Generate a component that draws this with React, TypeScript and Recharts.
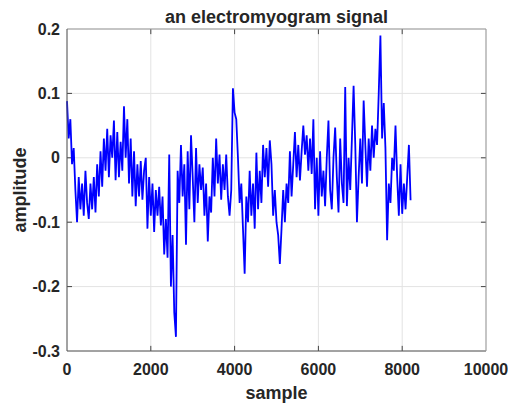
import {
  LineChart,
  Line,
  XAxis,
  YAxis,
  CartesianGrid,
  ReferenceLine,
  Label,
} from "recharts";

// amplitude, one value every 40 samples
const amplitude = [
  0.088, 0.03, 0.06, -0.01, 0.015,
  -0.05, -0.1, -0.03, -0.08, -0.04, -0.09, -0.02, -0.07,
  -0.095, -0.04, -0.08, -0.03, -0.085,
  -0.01, -0.06, 0.01, -0.045,
  0.03, -0.02, 0.045, -0.03, 0.035, 0.0,
  0.058,
  -0.035, 0.04, -0.03, 0.025,
  -0.02, 0.08,
  0.0, 0.06, -0.04, 0.03,
  -0.06, 0.01, -0.075, -0.01, -0.06,
  -0.005, -0.065, -0.02, 0.0,
  -0.11, -0.03, -0.09, -0.04,
  -0.115, -0.05, -0.09, -0.045, -0.105, -0.06,
  -0.15, -0.095, -0.155, 0.005,
  -0.2, -0.12,
  -0.24, -0.278,
  -0.02,
  -0.07, 0.02, -0.06, -0.01,
  -0.135, 0.01, -0.08, 0.035, -0.03,
  -0.1, 0.015, -0.07,
  -0.01, -0.05, -0.015,
  -0.09, -0.04, -0.13, -0.06,
  -0.085, 0.0, -0.06, 0.03,
  -0.04, 0.005, -0.065, -0.01, -0.05, 0.005, -0.06,
  -0.09, -0.05,
  0.108,
  0.07, 0.06,
  0.0,
  -0.07, -0.04, -0.11, -0.18, -0.06,
  -0.1, -0.02, -0.09, -0.04, -0.11, 0.008,
  -0.08, -0.02, -0.07,
  0.02, -0.03, 0.015, -0.045, 0.027, -0.01,
  -0.09, -0.05, -0.1,
  -0.12, -0.165, -0.11,
  -0.05, -0.1, -0.04,
  -0.07, 0.01, -0.06, -0.01, 0.04,
  -0.03, 0.02, -0.035, 0.01,
  0.05, 0.005,
  0.035, -0.02, 0.03, -0.025,
  0.06, -0.08, 0.0,
  -0.09, 0.01, -0.06, -0.02,
  -0.075, 0.0, 0.058, -0.05,
  -0.08, 0.0, 0.047, -0.03,
  -0.085, 0.03, -0.04, -0.07,
  0.11,
  -0.075, 0.0, -0.05,
  0.03, 0.112,
  0.02, -0.1, -0.03,
  0.03, -0.04, 0.089, 0.02,
  -0.045, 0.03, -0.02,
  0.05, 0.0, 0.045,
  0.02, 0.1, 0.19, 0.03,
  0.085, 0.015,
  -0.128, -0.04,
  -0.07, 0.0,
  -0.02, 0.05,
  -0.03, -0.09, -0.01,
  -0.087, -0.04, -0.08,
  -0.03, 0.02, -0.066,
];
const sampleStep = 40;

const xTicks = [0, 2000, 4000, 6000, 8000, 10000];
const yTicks = [-0.3, -0.2, -0.1, 0, 0.1, 0.2];

const data = amplitude.map((a, i) => ({ sample: i * sampleStep, amp: a }));

const font = "'Liberation Sans', Arial, sans-serif";
const tickStyle = { fontSize: 16, fontWeight: "bold", fill: "#262626", fontFamily: font };
const labelStyle = { fontSize: 18, fontWeight: "bold", fill: "#262626", fontFamily: font };

const App = () => {
  return (
    <div style={{ width: 508, height: 407, background: "#fff", overflow: "hidden" }}>
      <style>{"html,body{margin:0;padding:0;overflow:hidden}"}</style>
      <LineChart width={508} height={407} data={data} margin={{ top: 0, right: 0, bottom: 0, left: 0 }}>
        <CartesianGrid stroke="#e3e3e3" />
        <XAxis
          dataKey="sample"
          type="number"
          domain={[0, 10000]}
          ticks={xTicks}
          height={56}
          tickLine={false}
          tickSize={6}
          tickMargin={7}
          axisLine={{ stroke: "#555" }}
          tick={tickStyle}
        >
          <Label value="sample" position="insideBottom" offset={8} style={labelStyle} />
        </XAxis>
        <XAxis
          xAxisId="top"
          orientation="top"
          type="number"
          domain={[0, 10000]}
          height={29}
          tick={false}
          tickLine={false}
          axisLine={{ stroke: "#999" }}
        >
          <Label value="an electromyogram signal" position="insideTop" offset={10} style={labelStyle} />
        </XAxis>
        <YAxis
          type="number"
          domain={[-0.3, 0.2]}
          ticks={yTicks}
          width={67}
          tickLine={false}
          tickSize={6}
          tickMargin={1}
          axisLine={{ stroke: "#555" }}
          tick={tickStyle}
          tickFormatter={(v) => String(Number(v.toFixed(1)))}
        >
          <Label value="amplitude" angle={-90} position="insideLeft" offset={20} style={{ ...labelStyle, textAnchor: "middle" }} />
        </YAxis>
        <YAxis
          yAxisId="right"
          orientation="right"
          type="number"
          domain={[-0.3, 0.2]}
          width={22}
          tick={false}
          tickLine={false}
          axisLine={{ stroke: "#999" }}
        />
        {xTicks.slice(1, -1).map((t) => (
          <ReferenceLine key={"b" + t} segment={[{ x: t, y: -0.3 }, { x: t, y: -0.292 }]} stroke="#444" ifOverflow="visible" />
        ))}
        {xTicks.slice(1, -1).map((t) => (
          <ReferenceLine key={"t" + t} segment={[{ x: t, y: 0.2 }, { x: t, y: 0.192 }]} stroke="#444" ifOverflow="visible" />
        ))}
        {yTicks.slice(1, -1).map((t) => (
          <ReferenceLine key={"l" + t} segment={[{ x: 0, y: t }, { x: 120, y: t }]} stroke="#444" ifOverflow="visible" />
        ))}
        {yTicks.slice(1, -1).map((t) => (
          <ReferenceLine key={"r" + t} segment={[{ x: 10000, y: t }, { x: 9880, y: t }]} stroke="#444" ifOverflow="visible" />
        ))}
        <Line
          dataKey="amp"
          type="linear"
          stroke="#0000ff"
          strokeWidth={1.8}
          dot={false}
          isAnimationActive={false}
        />
      </LineChart>
    </div>
  );
};

export default App;
